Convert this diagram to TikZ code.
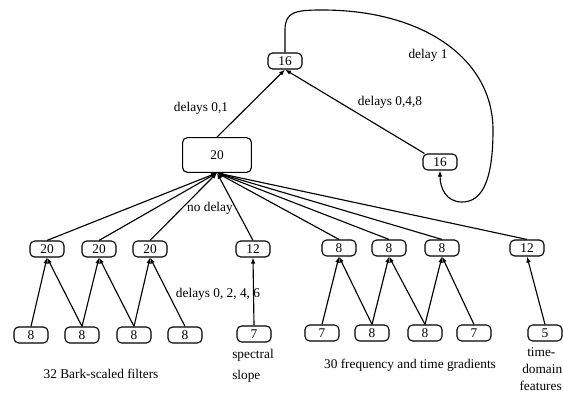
\documentclass[tikz,border=0pt]{standalone}
\usepackage{fontspec}
\setmainfont{Liberation Serif}
\usetikzlibrary{arrows.meta}
\begin{document}
\begin{tikzpicture}[x=0.75pt,y=-0.75pt,
  font=\fontsize{10}{12}\selectfont,
  unit/.style={draw,line width=0.85pt,rounded corners=3.5pt,minimum width=25.5pt,minimum height=12pt,inner sep=0pt},
  bigunit/.style={unit,minimum width=51.5pt,minimum height=26pt},
  link/.style={line width=0.85pt,-{Latex[length=4.5pt,width=3.4pt]}},
  lbl/.style={inner sep=0pt}]
\useasboundingbox (0,0) rectangle (563,392);

% output layer and its recurrent companion
\node[unit] (top) at (285,61) {16};
\node[bigunit] (hid) at (217,155) {20};
\node[unit] (rec) at (440,162) {16};

% second layer
\node[unit] (ba) at (47,249) {20};
\node[unit] (bb) at (99,249) {20};
\node[unit] (bc) at (150,249) {20};
\node[unit] (ss) at (253,249) {12};
\node[unit] (ga) at (339,248) {8};
\node[unit] (gb) at (389,248) {8};
\node[unit] (gc) at (442,248) {8};
\node[unit] (td) at (527,248) {12};

% input groups
\node[unit] (ia) at (31,335) {8};
\node[unit] (ib) at (82,335) {8};
\node[unit] (ic) at (134,335) {8};
\node[unit] (id) at (185,335) {8};
\node[unit] (is) at (254,334) {7};
\node[unit] (ja) at (322,333) {7};
\node[unit] (jb) at (372,333) {8};
\node[unit] (jc) at (425,333) {8};
\node[unit] (jd) at (474,333) {7};
\node[unit] (it) at (545,333) {5};

% labels
\node[lbl] (l01) at (201,108) {delays 0,1};
\node[lbl] (l048) at (390,102) {delays 0,4,8};
\node[lbl] (l1) at (428,55) {delay 1};
\node[lbl] (lno) at (210,208) {no delay};
\node[lbl] (l246) at (218,294) {delays 0, 2, 4, 6};
\node[lbl] (lbark) at (101,374) {32 Bark-scaled filters};
\node[lbl,anchor=west] (lsp1) at (232,355) {spectral};
\node[lbl,anchor=west] (lsp2) at (232,376) {slope};
\node[lbl] (lgrad) at (410,365) {30 frequency and time gradients};
\node[lbl,anchor=west] (ltd1) at (527,352) {time-};
\node[lbl,anchor=west] (ltd2) at (522,369) {domain};
\node[lbl,anchor=east] (ltd3) at (562,386) {features};

% upper connections
\draw[link] (hid.north) -- (top.south);
\draw[link] (rec.north west) ++(2,0) -- (top.south);
\draw[link] (top.north) -- (285,30) .. controls (285,12) and (295,10) .. (322,10)
  .. controls (425,10) and (493,60) .. (493,130)
  .. controls (493,185) and (480,202) .. (462,202)
  .. controls (446,202) and (440,188) .. (rec.south);

% second layer into hidden layer
\foreach \n in {ba,bb,bc,ss,ga,gb,gc,td}
  \draw[link] (\n.north) -- (hid.south);

% inputs into second layer
\draw[link] (ia.north) -- (ba.south);
\draw[link] (ib.north) -- (ba.south);
\draw[link] (ib.north) -- (bb.south);
\draw[link] (ic.north) -- (bb.south);
\draw[link] (ic.north) -- (bc.south);
\draw[link] (id.north) -- (bc.south);
\draw[link] (is.north) -- (ss.south);
\draw[link] (ja.north) -- (ga.south);
\draw[link] (jb.north) -- (ga.south);
\draw[link] (jb.north) -- (gb.south);
\draw[link] (jc.north) -- (gb.south);
\draw[link] (jc.north) -- (gc.south);
\draw[link] (jd.north) -- (gc.south);
\draw[link] (it.north) -- (td.south);
\end{tikzpicture}
\end{document}
